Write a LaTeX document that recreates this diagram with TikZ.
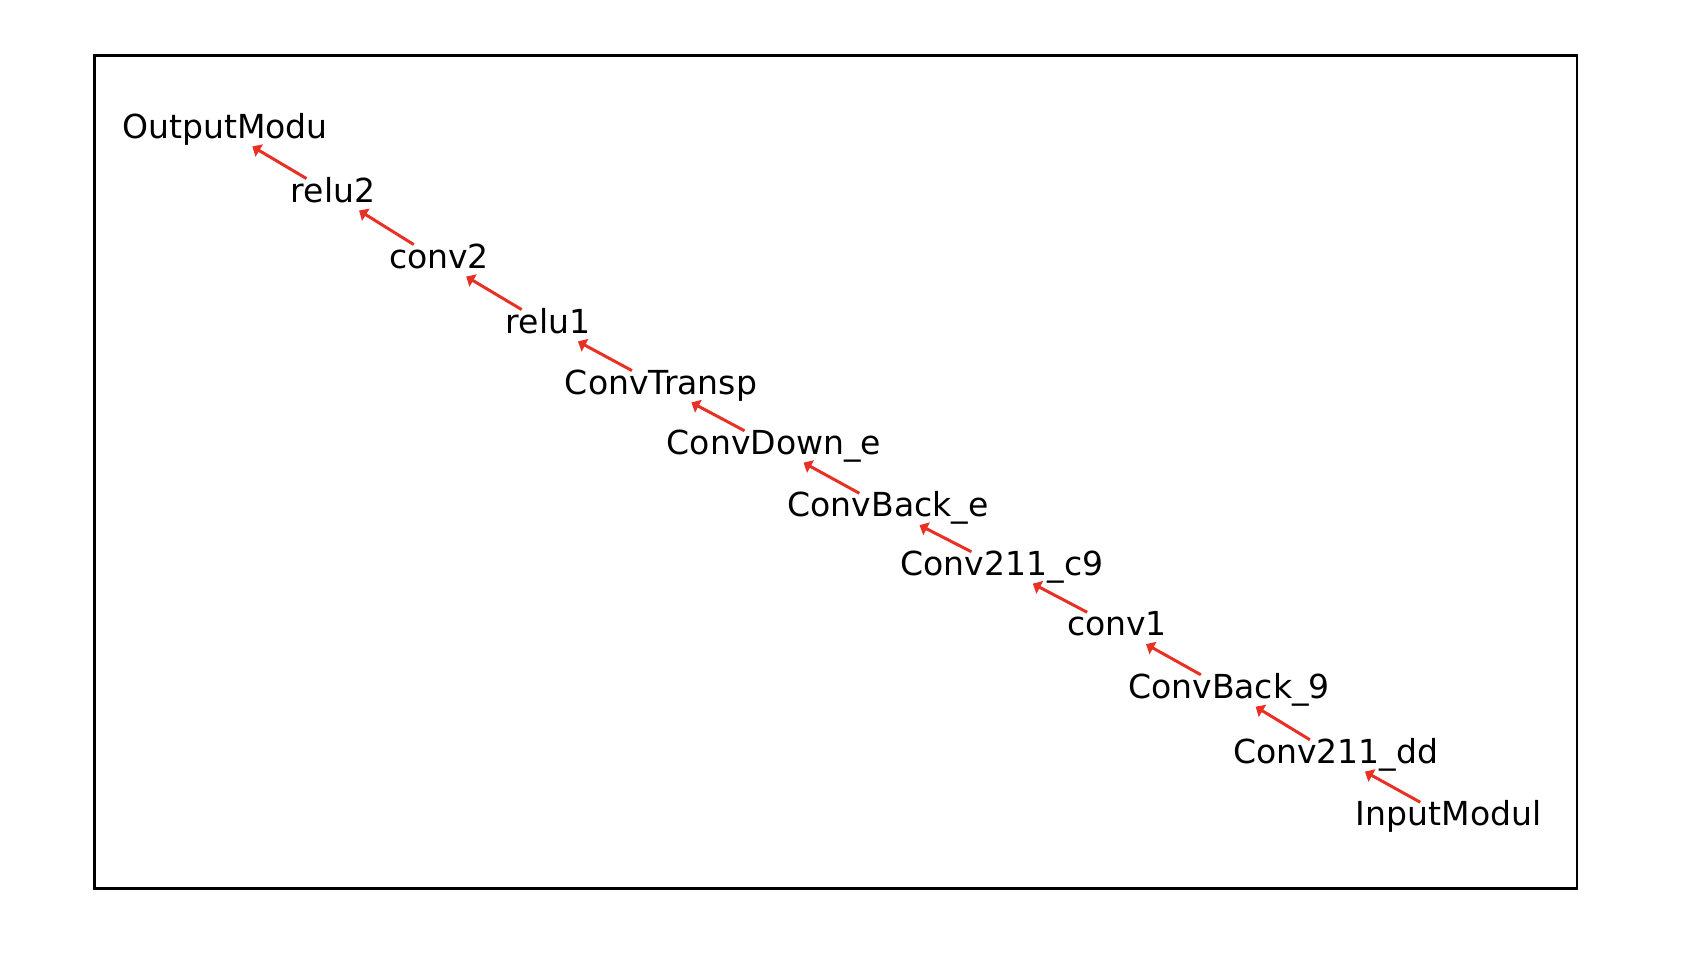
\documentclass[tikz,border=0pt]{standalone}
\usepackage{fontspec}
\setmainfont{DejaVu Sans}
\usetikzlibrary{arrows.meta}
\definecolor{arrowred}{RGB}{233,48,36}
\tikzset{
  lbl/.style={font=\fontsize{9.4}{11}\selectfont, inner sep=0pt, text height=0.23cm, text depth=0.07cm, anchor=base},
  conn/.style={draw=arrowred, line width=0.03cm, -{Triangle[length=0.08cm,width=0.14cm]}, shorten >=0.01cm}
}
\begin{document}
\begin{tikzpicture}[x=0.01cm, y=-0.01cm]
\useasboundingbox (0,0) rectangle (1706,962);

\draw[line width=0.022cm] (94.5,55.5) rectangle (1577,888.5);

\node[lbl] (outmod) at (225,138.3) {OutputModu};
\node[lbl] (relu2) at (333,202.3) {relu2};
\node[lbl] (conv2) at (439,268.3) {conv2};
\node[lbl] (relu1) at (548,333.3) {relu1};
\node[lbl] (convtr) at (661,394.3) {ConvTransp};
\node[lbl] (convdown) at (774,454.5) {ConvDown\_e};
\node[lbl] (backe) at (888,517) {ConvBack\_e};
\node[lbl] (ctc9) at (1002,575.5) {Conv211\_c9};
\node[lbl] (conv1) at (1117,636) {conv1};
\node[lbl] (back9) at (1229,698.5) {ConvBack\_9};
\node[lbl] (ctdd) at (1335.7,763.5) {Conv211\_dd};
\node[lbl] (inmod) at (1448.7,826) {InputModul};

\draw[conn] (relu2) -- (outmod);
\draw[conn] (conv2) -- (relu2);
\draw[conn] (relu1) -- (conv2);
\draw[conn] (convtr) -- (relu1);
\draw[conn] (convdown) -- (convtr);
\draw[conn] (backe) -- (convdown);
\draw[conn] (ctc9) -- (backe);
\draw[conn] (conv1) -- (ctc9);
\draw[conn] (back9) -- (conv1);
\draw[conn] (ctdd) -- (back9);
\draw[conn] (inmod) -- (ctdd);
\end{tikzpicture}
\end{document}
